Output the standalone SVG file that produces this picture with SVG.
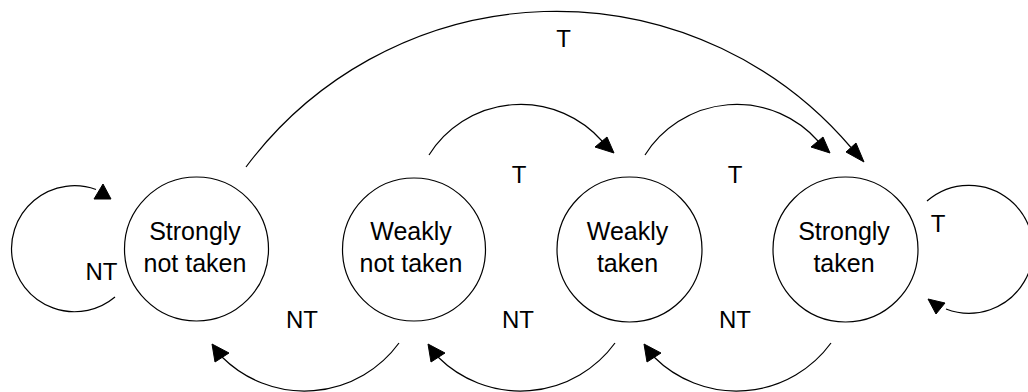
<svg xmlns="http://www.w3.org/2000/svg" width="1028" height="392" viewBox="0 0 1028 392">
  <style>
    .st { fill: #ffffff; stroke: #000000; stroke-width: 1.2; }
    .arc { fill: none; stroke: #000000; stroke-width: 1.2; }
    .head { fill: #000000; stroke: #000000; stroke-width: 1; stroke-linejoin: miter; }
    .nt { font-family: "Liberation Sans", Arial, sans-serif; font-size: 25px; fill: #000000; text-anchor: middle; }
    .lbl { font-family: "Liberation Sans", Arial, sans-serif; font-size: 24px; fill: #000000; text-anchor: middle; }
  </style>
  <rect x="0" y="0" width="1028" height="392" fill="#ffffff"/>

  <g id="connectors">
    <!-- self loop on Strongly not taken (NT) -->
    <path class="arc" d="M115,297 A63,63 0 1 1 96,189.5"/>
    <polygon class="head" points="94,199 111,199 103,184"/>
    <!-- Strongly not taken -> Strongly taken (T) -->
    <path class="arc" d="M246,167 A387,387 0 0 1 851,147.5"/>
    <polygon class="head" points="846,152 856,143 864,162"/>
    <!-- Weakly not taken -> Weakly taken (T) -->
    <path class="arc" d="M429,155 A108.5,108.5 0 0 1 602,141"/>
    <polygon class="head" points="595,147 607,137 614,153"/>
    <!-- Weakly taken -> Strongly taken (T) -->
    <path class="arc" d="M645,155 A108.5,108.5 0 0 1 818,141"/>
    <polygon class="head" points="811,147 823,137 830,153"/>
    <!-- self loop on Strongly taken (T) -->
    <path class="arc" d="M927,201 A64,64 0 1 1 946,309"/>
    <polygon class="head" points="928,299 945,303 936,314"/>
    <!-- Weakly not taken -> Strongly not taken (NT) -->
    <path class="arc" d="M399,343 A117,117 0 0 1 222,357"/>
    <polygon class="head" points="212,344 215,362 229,353"/>
    <!-- Weakly taken -> Weakly not taken (NT) -->
    <path class="arc" d="M615,343 A117,117 0 0 1 438,357"/>
    <polygon class="head" points="428,344 431,362 445,353"/>
    <!-- Strongly taken -> Weakly taken (NT) -->
    <path class="arc" d="M831,343 A117,117 0 0 1 654,357"/>
    <polygon class="head" points="644,344 647,362 661,353"/>

    <text class="lbl" x="101.5" y="280">NT</text>
    <text class="lbl" x="563.5" y="47">T</text>
    <text class="lbl" x="519" y="183">T</text>
    <text class="lbl" x="735" y="183">T</text>
    <text class="lbl" x="938" y="232">T</text>
    <text class="lbl" x="302" y="328">NT</text>
    <text class="lbl" x="518" y="328">NT</text>
    <text class="lbl" x="735" y="328">NT</text>
  </g>

  <g id="strongly-not-taken">
    <circle class="st" cx="196.5" cy="249" r="72"/>
    <text class="nt" x="195" y="240">Strongly</text>
    <text class="nt" x="195" y="272">not taken</text>
  </g>
  <g id="weakly-not-taken">
    <circle class="st" cx="414" cy="249.5" r="71.5"/>
    <text class="nt" x="411" y="240">Weakly</text>
    <text class="nt" x="411" y="272">not taken</text>
  </g>
  <g id="weakly-taken">
    <circle class="st" cx="629.5" cy="249.5" r="72.5"/>
    <text class="nt" x="627.5" y="240">Weakly</text>
    <text class="nt" x="627.5" y="272">taken</text>
  </g>
  <g id="strongly-taken">
    <circle class="st" cx="845.5" cy="249.5" r="72.5"/>
    <text class="nt" x="844" y="240">Strongly</text>
    <text class="nt" x="844" y="272">taken</text>
  </g>
</svg>
